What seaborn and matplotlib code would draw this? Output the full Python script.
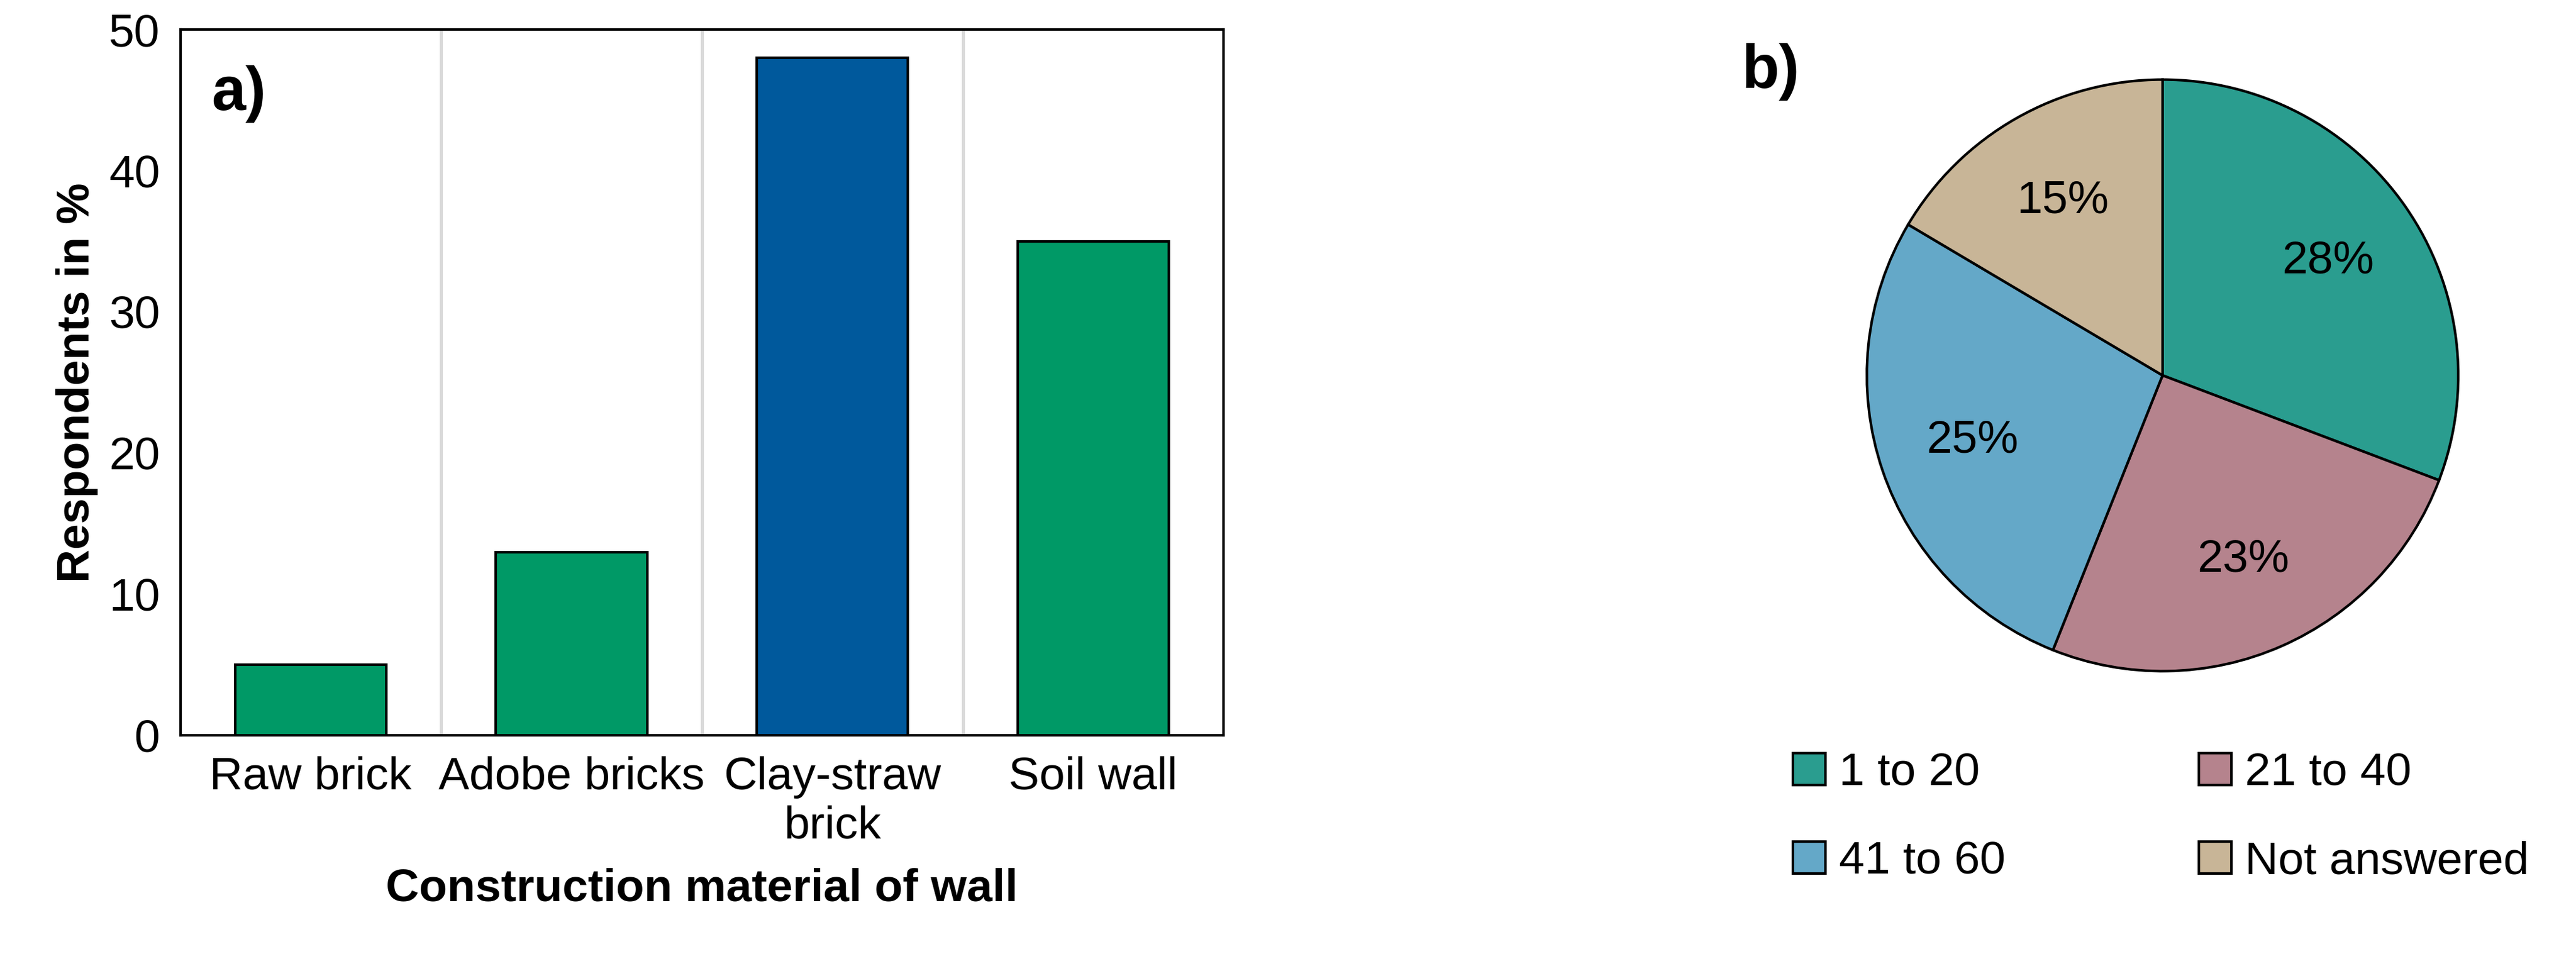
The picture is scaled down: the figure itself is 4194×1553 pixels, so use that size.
import matplotlib
matplotlib.use("Agg")
import matplotlib.pyplot as plt
import seaborn as sns
import pandas as pd
import numpy as np
from matplotlib.patches import Patch

# data
materials = ["Raw brick", "Adobe bricks", "Clay-straw\nbrick", "Soil wall"]
respondents = [5, 13, 48, 35]
bar_colors = ["#009966", "#009966", "#00599C", "#009966"]

age_groups = ["1 to 20", "21 to 40", "41 to 60", "Not answered"]
age_share = [28, 23, 25, 15]
pie_colors = ["#2A9D8F", "#B5838D", "#64A8C8", "#C8B597"]

sns.set_style("white")
plt.rcParams['font.family'] = ['Liberation Sans', 'DejaVu Sans']
plt.rcParams['text.color'] = "black"
plt.rcParams['axes.labelcolor'] = "black"
plt.rcParams['xtick.color'] = "black"
plt.rcParams['ytick.color'] = "black"

FS = 18

fig = plt.figure(figsize=(13.98, 5.177), dpi=300)
ax = fig.add_axes([0.070, 0.229, 0.405, 0.740])

df = pd.DataFrame({"material": materials, "pct": respondents})
sns.barplot(data=df, x="material", y="pct", hue="material", palette=bar_colors, saturation=1,
            width=0.58, edgecolor="black", linewidth=1.0, legend=False, ax=ax, zorder=3)
ax.set_ylim(0, 50)
ax.set_xlim(-0.5, 3.5)
ax.set_yticks(range(0, 51, 10))
for xv in [0.5, 1.5, 2.5]:
    ax.axvline(xv, color="#d9d9d9", linewidth=1.2, zorder=1)
for s in ax.spines.values():
    s.set_color("black")
    s.set_linewidth(1.0)
ax.tick_params(axis="both", labelsize=FS, length=0, pad=8)
ax.set_ylabel("Respondents in %", fontsize=FS, fontweight="bold")
ax.set_xlabel("Construction material of wall", fontsize=FS, fontweight="bold", labelpad=8)
ax.text(0.03, 0.95, "a)", transform=ax.transAxes, fontsize=24, fontweight="bold", va="top")

pax = fig.add_axes([0.696, 0.219, 0.287, 0.775])
wedges, _ = pax.pie(age_share, colors=pie_colors, startangle=90, counterclock=False,
                    wedgeprops=dict(edgecolor="black", linewidth=1.0))
for w, v in zip(wedges, age_share):
    mid = np.deg2rad((w.theta1 + w.theta2) / 2)
    pax.text(0.68 * np.cos(mid), 0.68 * np.sin(mid), f"{v}%", ha="center", va="center", fontsize=FS)
pax.set_aspect("equal")
fig.text(0.676, 0.955, "b)", fontsize=24, fontweight="bold", va="top")

handles = [Patch(facecolor=c, edgecolor="black", label=l) for c, l in zip(pie_colors, age_groups)]
order = [0, 2, 1, 3]
fig.legend(handles=[handles[i] for i in order], ncol=2, loc="upper left", bbox_to_anchor=(0.680, 0.255),
           frameon=False, fontsize=FS, handlelength=0.7, handleheight=0.7,
           handletextpad=0.3, columnspacing=4.2, labelspacing=1.0)

fig.savefig("out.png", dpi=300)
